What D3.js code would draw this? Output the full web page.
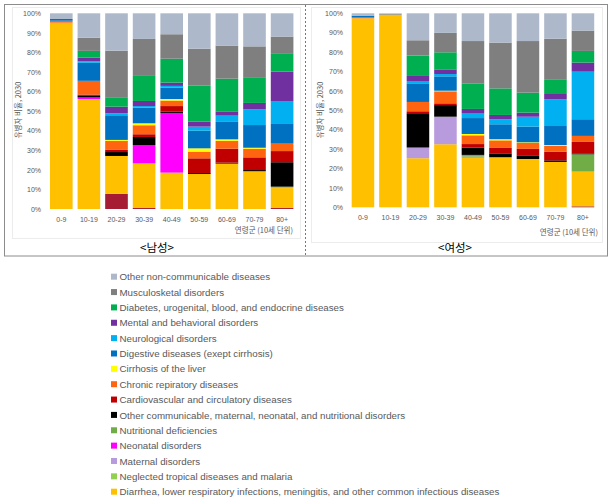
<!DOCTYPE html>
<html><head><meta charset="utf-8">
<script src="https://cdn.jsdelivr.net/npm/d3@7"></script>
<style>
html,body{margin:0;padding:0;background:#fff;}
svg{display:block;}
</style></head>
<body>
<svg id="c" width="615" height="503"></svg>
<script>
// ---------- DATA ----------
const ageGroups = ["0-9","10-19","20-29","30-39","40-49","50-59","60-69","70-79","80+"];
const yTicks = [0,10,20,30,40,50,60,70,80,90,100];

// stacking order: bottom -> top
const seriesNames = [
  "HIV/AIDS and tuberculosis",
  "Diarrhea, lower respiratory infections, meningitis, and other common infectious diseases",
  "Neglected tropical diseases and malaria",
  "Maternal disorders",
  "Neonatal disorders",
  "Nutritional deficiencies",
  "Other communicable, maternal, neonatal, and nutritional disorders",
  "Cardiovascular and circulatory diseases",
  "Chronic repiratory diseases",
  "Cirrhosis of the liver",
  "Digestive diseases (exept cirrhosis)",
  "Neurological disorders",
  "Mental and behavioral disorders",
  "Diabetes, urogenital, blood, and endocrine diseases",
  "Musculosketal disorders",
  "Other non-communicable diseases"
];
const seriesColors = ["#A51C33","#FFC000","#92D050","#B89BDD","#FF00FF","#70AD47","#000000","#C00000","#FF6411","#FFFF00","#0070C0","#00B0F0","#7030A0","#00B050","#7F7F7F","#ADB9CA"];
const legendSeries = seriesNames.slice(1).reverse(); // legend lists top -> bottom, without unlabeled bottom series

// Male values (% of prevalent cases, 2030), one array per series, per age group
const maleHiv        = [0, 0, 7.7, 0.5, 0, 0, 0, 0, 0.5];
const maleDiarrhea   = [95.2, 56.2, 19.4, 22.8, 18.6, 17.9, 23.2, 19.3, 10.2];
const maleNeglected  = [0, 0, 0, 0, 0, 0, 0, 0, 0.7];
const maleMaternal   = [0, 0, 0, 0, 0, 0, 0, 0, 0];
const maleNeonatal   = [0, 0.8, 0, 9.4, 30.5, 0, 0, 0, 0];
const maleNutrition  = [0, 0, 0, 0, 0, 0, 0, 0, 0];
const maleOtherComm  = [0, 0.8, 2.0, 4.1, 0.6, 0.5, 0.5, 0.6, 12.5];
const maleCardio     = [0, 0.7, 1.1, 1.4, 2.9, 7.5, 7.1, 6.5, 5.7];
const maleChronic    = [1.0, 7.0, 4.6, 4.6, 2.8, 3.4, 4.0, 4.4, 3.8];
const maleCirrhosis  = [0, 0, 0.5, 1.0, 0.8, 1.7, 0.8, 0.5, 0];
const maleDigestive  = [0.9, 9.2, 12.6, 8.0, 5.8, 9.0, 8.9, 11.6, 10.4];
const maleNeuro      = [0, 0.8, 1.0, 0.8, 0.9, 2.1, 3.2, 8.0, 11.1];
const maleMental     = [0, 1.9, 3.4, 2.6, 1.7, 2.5, 2.2, 3.3, 15.3];
const maleDiabetes   = [0, 3.4, 4.8, 12.8, 12.2, 18.4, 16.7, 12.8, 9.4];
const maleMusculo    = [0, 6.7, 23.8, 18.9, 12.5, 18.9, 16.9, 16.1, 8.5];
const maleOtherNcd   = [2.9, 12.5, 19.1, 13.1, 10.7, 18.1, 16.5, 16.9, 11.9];

// Female values
const femaleHiv        = [0, 0, 0, 0, 0, 0, 0, 0, 0.5];
const femaleDiarrhea   = [97.4, 99.3, 25.3, 32.5, 25.4, 25.8, 24.9, 23.4, 17.9];
const femaleNeglected  = [0, 0, 0, 0, 0, 0, 0, 0, 0];
const femaleMaternal   = [0, 0, 5.5, 14.2, 0.7, 0, 0, 0, 0];
const femaleNeonatal   = [0, 0, 0, 0, 0, 0, 0, 0, 0];
const femaleNutrition  = [0, 0, 0, 0, 0.9, 0, 0, 0, 8.9];
const femaleOtherComm  = [0, 0, 17.7, 6.0, 3.8, 2.0, 1.6, 0.8, 0.5];
const femaleCardio     = [0, 0, 1.0, 0.9, 1.8, 2.8, 3.6, 4.5, 5.9];
const femaleChronic    = [0.7, 0, 4.8, 6.2, 4.5, 3.9, 3.1, 2.9, 3.1];
const femaleCirrhosis  = [0, 0, 0, 0.3, 0.7, 0.6, 0.3, 0.5, 0];
const femaleDigestive  = [0.7, 0, 9.6, 7.4, 8.2, 7.7, 8.1, 9.8, 8.6];
const femaleNeuro      = [0, 0, 1.2, 1.2, 2.3, 2.6, 5.1, 13.8, 24.5];
const femaleMental     = [0, 0, 2.6, 2.4, 2.4, 2.2, 2.1, 2.7, 4.7];
const femaleDiabetes   = [0, 0, 10.5, 8.8, 13.2, 13.7, 10.3, 7.6, 6.0];
const femaleMusculo    = [0, 0.4, 7.9, 10.0, 21.8, 23.6, 26.6, 20.9, 10.5];
const femaleOtherNcd   = [1.2, 0.3, 13.9, 10.1, 14.3, 15.1, 14.3, 13.1, 8.9];

const maleSeries = [maleHiv, maleDiarrhea, maleNeglected, maleMaternal, maleNeonatal, maleNutrition, maleOtherComm, maleCardio, maleChronic, maleCirrhosis, maleDigestive, maleNeuro, maleMental, maleDiabetes, maleMusculo, maleOtherNcd];
const femaleSeries = [femaleHiv, femaleDiarrhea, femaleNeglected, femaleMaternal, femaleNeonatal, femaleNutrition, femaleOtherComm, femaleCardio, femaleChronic, femaleCirrhosis, femaleDigestive, femaleNeuro, femaleMental, femaleDiabetes, femaleMusculo, femaleOtherNcd];

const yAxisTitle = "유병자 비율, 2030";
const xAxisTitle = "연령군 (10세 단위)";
const panelTitles = ["<남성>", "<여성>"];

// ---------- DRAW ----------
const svg = d3.select("#c");
const KFONT = "'Noto Sans CJK KR','Noto Sans',sans-serif";
const color = d3.scaleOrdinal().domain(seriesNames).range(seriesColors);

// outer frame and divider
svg.append("rect").attr("x",4.5).attr("y",4.5).attr("width",603).attr("height",251.5)
  .attr("fill","none").attr("stroke","#8c8c8c").attr("stroke-width",1);
svg.append("line").attr("x1",305.5).attr("x2",305.5).attr("y1",5).attr("y2",256)
  .attr("stroke","#777").attr("stroke-dasharray","2,2");

function buildRows(seriesArrays){
  return ageGroups.map((g,i)=>{
    const row = {age:g};
    seriesNames.forEach((s,k)=>{ row[s] = seriesArrays[k][i]; });
    return row;
  });
}

function panel(cfg){
  const g = svg.append("g");
  // faint chart-area box
  g.append("rect").attr("x",cfg.box[0]+0.5).attr("y",cfg.box[1]+0.5)
    .attr("width",cfg.box[2]).attr("height",cfg.box[3])
    .attr("fill","none").attr("stroke","#ececec");

  const x = d3.scaleBand().domain(ageGroups).range(cfg.xr).paddingInner(0.18).paddingOuter(0.09);
  const y = d3.scaleLinear().domain([0,100]).range(cfg.yr);
  const stacked = d3.stack().keys(seriesNames)(buildRows(cfg.data));

  g.selectAll("g.s").data(stacked).join("g").attr("class","s")
    .attr("fill", d=>color(d.key))
    .selectAll("rect").data(d=>d).join("rect")
    .attr("x", d=>x(d.data.age))
    .attr("width", x.bandwidth())
    .attr("y", d=>y(d[1]))
    .attr("height", d=>Math.max(0, y(d[0]) - y(d[1])));

  // y axis
  const ya = g.append("g").attr("transform",`translate(${cfg.tickX},0)`)
    .call(d3.axisLeft(y).tickValues(yTicks).tickFormat(d=>d+"%").tickSize(0).tickPadding(0));
  ya.select(".domain").remove();
  ya.selectAll("text").attr("fill","#595959").style("font-size","7px").style("font-family","'Liberation Sans',Arial,sans-serif");

  // x axis
  const xa = g.append("g").attr("transform",`translate(0,${cfg.yr[0]})`)
    .call(d3.axisBottom(x).tickSize(0).tickPadding(cfg.xPad));
  xa.select(".domain").remove();
  xa.selectAll("text").attr("fill","#595959").style("font-size","7px").style("font-family","'Liberation Sans',Arial,sans-serif");

  // y axis title
  g.append("text").attr("transform",`translate(${cfg.yTitleX},110) rotate(-90)`)
    .attr("text-anchor","middle").attr("fill","#595959")
    .style("font-size","7.5px").style("font-family",KFONT).text(yAxisTitle);
  // x axis title
  g.append("text").attr("x",cfg.xTitle[0]).attr("y",cfg.xTitle[1]).attr("text-anchor","end")
    .attr("fill","#595959").style("font-size","7.5px").style("font-family",KFONT).text(xAxisTitle);
  // panel title
  g.append("text").attr("x",cfg.title[0]).attr("y",cfg.title[1]).attr("text-anchor","middle")
    .attr("fill","#000").style("font-size","11.5px").style("font-family",KFONT).text(cfg.titleText);
}

panel({data:maleSeries, xr:[47.5,295.9], yr:[209,13.3], tickX:41, xPad:8, yTitleX:21,
  xTitle:[293,233], title:[157,252], titleText:panelTitles[0], box:[12,7,288,231]});
panel({data:femaleSeries, xr:[349.2,596.7], yr:[207.3,13.3], tickX:343, xPad:8, yTitleX:323,
  xTitle:[598,235], title:[455,252], titleText:panelTitles[1], box:[311,7,291,235]});

// legend
const leg = svg.append("g");
const ly = d3.scalePoint().domain(legendSeries).range([276.7, 491.7]);
const items = leg.selectAll("g").data(legendSeries).join("g")
  .attr("transform", d=>`translate(111,${ly(d)})`);
items.append("rect").attr("x",0).attr("y",-3).attr("width",6).attr("height",6).attr("fill",d=>color(d));
items.append("text").attr("x",8.5).attr("y",3.6).attr("fill","#595959")
  .style("font-size","9.75px").style("font-family","'Liberation Sans',Arial,sans-serif")
  .text(d=>d);
</script>
</body></html>
